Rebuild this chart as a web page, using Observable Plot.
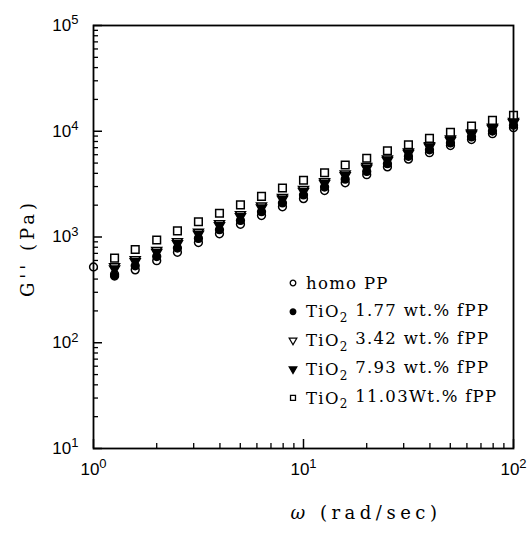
<!DOCTYPE html>
<html><head><meta charset="utf-8">
<script src="https://cdn.jsdelivr.net/npm/d3@7"></script>
<script src="https://cdn.jsdelivr.net/npm/@observablehq/plot@0.6"></script>
<style>body{margin:0;background:#fff} #chart{width:527px;height:543px}</style>
</head><body><div id="chart"></div>
<script>
// angular frequency (rad/s)
const omega = [1, 1.26, 1.58, 2, 2.51, 3.16, 3.98, 5.01, 6.31, 7.94, 10, 12.6, 15.8, 20, 25.1, 31.6, 39.8, 50.1, 63.1, 79.4, 100];
// G'' (Pa) for each sample
const homoPP  = [521, 444, 489, 597, 717, 887, 1072, 1318, 1597, 1932, 2306, 2748, 3258, 3881, 4603, 5450, 6270, 7320, 8350, 9480, 10810];
const tio177  = [null, 428, 534, 653, 787, 970, 1172, 1434, 1736, 2098, 2497, 2968, 3519, 4168, 4934, 5804, 6678, 7759, 8851, 10049, 11415];
const tio342  = [null, 525, 611, 747, 906, 1111, 1340, 1629, 1966, 2371, 2818, 3333, 3949, 4646, 5482, 6371, 7330, 8462, 9661, 10959, 12388];
const tio793  = [null, 500, 584, 715, 864, 1063, 1282, 1562, 1886, 2276, 2707, 3207, 3799, 4479, 5293, 6175, 7104, 8220, 9385, 10646, 12053];
const tio1103 = [null, 631, 762, 936, 1143, 1394, 1676, 2014, 2421, 2909, 3443, 4046, 4790, 5559, 6534, 7450, 8570, 9790, 11190, 12680, 14180];

const seriesLabels = [
  ["homo PP", null, null],
  ["TiO", "2", " 1.77 wt.% fPP"],
  ["TiO", "2", " 3.42 wt.% fPP"],
  ["TiO", "2", " 7.93 wt.% fPP"],
  ["TiO", "2", " 11.03Wt.% fPP"]
];
const seriesValues = [homoPP, tio177, tio342, tio793, tio1103];
const seriesStyle = [
  {symbol: "circle", fill: "white", rotate: 0, r: 3.9},
  {symbol: "circle", fill: "black", rotate: 0, r: 3.9},
  {symbol: "triangle", fill: "white", rotate: 180, r: 3.7},
  {symbol: "triangle", fill: "black", rotate: 180, r: 3.7},
  {symbol: "square", fill: "white", rotate: 0, r: 4.3}
];

const majorX = [1, 10, 100];
const minorX = [2, 3, 4, 5, 6, 7, 8, 9, 20, 30, 40, 50, 60, 70, 80, 90];
const majorY = [10, 100, 1000, 10000, 100000];
const minorY = [20, 30, 40, 50, 60, 70, 80, 90, 200, 300, 400, 500, 600, 700, 800, 900,
  2000, 3000, 4000, 5000, 6000, 7000, 8000, 9000, 20000, 30000, 40000, 50000, 60000, 70000, 80000, 90000];

const W = 527, H = 543, mL = 93, mR = 14, mT = 25, mB = 95;
const pw = W - mL - mR, ph = H - mT - mB;

const dotMarks = seriesValues.map((vals, i) => {
  const rows = omega.map((w, k) => ({w, g: vals[k]})).filter(d => d.g != null);
  const s = seriesStyle[i];
  return Plot.dot(rows, {x: "w", y: "g", symbol: () => s.symbol, r: s.r, rotate: s.rotate,
    fill: s.fill, stroke: "black", strokeWidth: 1.5});
});

const chart = Plot.plot({
  width: W, height: H,
  marginLeft: mL, marginRight: mR, marginTop: mT, marginBottom: mB,
  style: {fontFamily: "'Liberation Sans', Arial, sans-serif", fontSize: "17px", background: "white", color: "black"},
  x: {type: "log", domain: [1, 100], axis: null},
  y: {type: "log", domain: [10, 100000], axis: null},
  symbol: {type: "identity"},
  marks: [
    Plot.tickY(majorY, {y: d => d, insetRight: pw - 9, stroke: "black", strokeWidth: 1.5}),
    Plot.tickY(minorY, {y: d => d, insetRight: pw - 5, stroke: "black", strokeWidth: 1.3}),
    Plot.tickX(majorX, {x: d => d, insetTop: ph - 9, stroke: "black", strokeWidth: 1.5}),
    Plot.tickX(minorX, {x: d => d, insetTop: ph - 5, stroke: "black", strokeWidth: 1.3}),
    Plot.axisX(majorX, {tickSize: 0, tickPadding: 14, fontSize: 17, label: null, tickFormat: d => String(Math.round(Math.log10(d)))}),
    Plot.axisY(majorY, {tickSize: 0, tickPadding: 15, fontSize: 17, label: null, tickFormat: d => String(Math.round(Math.log10(d)))}),
    ...dotMarks,
    Plot.frame({stroke: "black", strokeWidth: 1.8})
  ]
});
document.getElementById("chart").appendChild(chart);

const svg = d3.select(chart);
// superscript tick labels
svg.selectAll('g[aria-label="x-axis tick label"] text, g[aria-label="y-axis tick label"] text').each(function() {
  const e = this.textContent;
  const t = d3.select(this);
  t.text("10");
  t.append("tspan").attr("dy", "-0.5em").attr("font-size", 13).text(e);
});

const serif = "'DejaVu Serif', serif";
// axis titles
svg.append("text").attr("transform", "translate(28,248) rotate(-90)")
  .attr("text-anchor", "middle").attr("dy", "0.35em").attr("letter-spacing", 4)
  .attr("font-family", serif).attr("font-size", 18).text("G''\u00a0(Pa)");
const xt = svg.append("text").attr("x", 366).attr("y", 513).attr("text-anchor", "middle").attr("dy", "0.35em")
  .attr("font-family", serif).attr("font-size", 18).attr("letter-spacing", 4.5);
xt.append("tspan").attr("font-style", "italic").text("ω");
xt.append("tspan").text("\u00a0(rad/sec)");

// legend
const leg = svg.append("g").attr("font-family", serif).attr("font-size", 16.5).attr("text-anchor", "start").attr("letter-spacing", 1.3);
seriesLabels.forEach((lab, i) => {
  const y = 283 + i * 28.7;
  const s = seriesStyle[i];
  const type = s.symbol === "circle" ? d3.symbolCircle : s.symbol === "square" ? d3.symbolSquare : d3.symbolTriangle;
  leg.append("path").attr("d", d3.symbol(type, Math.PI * 2.8 * 2.8)())
    .attr("transform", `translate(293,${y}) rotate(${s.rotate})`)
    .attr("fill", s.fill).attr("stroke", "black").attr("stroke-width", 1.3);
  const t = leg.append("text").attr("x", 306).attr("y", y).attr("dy", "0.35em");
  t.append("tspan").text(lab[0]);
  if (lab[1]) {
    t.append("tspan").attr("dy", "0.4em").attr("font-size", 12).text(lab[1]);
    t.append("tspan").attr("dy", "-0.4em").text(lab[2]);
  }
});
</script>
</body></html>
